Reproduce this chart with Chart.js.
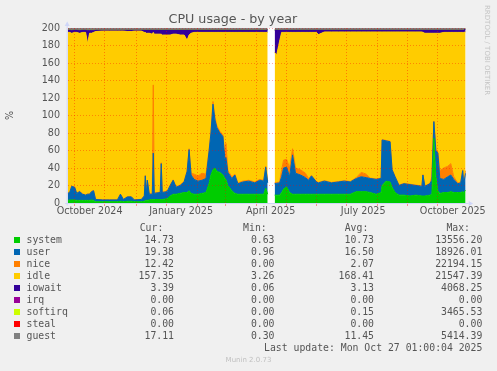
<!DOCTYPE html>
<html>
<head>
<meta charset="utf-8">
<title>CPU usage - by year</title>
<script src="https://cdn.jsdelivr.net/npm/chart.js@4.4.1/dist/chart.umd.min.js"></script>
<style>
  body { margin: 0; background: #f0f0f0; }
  #wrap { position: relative; width: 497px; height: 371px; overflow: hidden; }
  #wrap canvas { position: absolute; left: 0; top: 0; }
  .t { position: absolute; font-family: 'DejaVu Sans Mono', monospace; font-size: 9.8px; line-height: 12px; color: #555; white-space: pre; }
  .sq { position: absolute; width: 6px; height: 6px; }
  #credit { position: absolute; left: 483px; top: 5px; writing-mode: vertical-rl; font-family: 'DejaVu Sans', sans-serif; font-size: 7px; color: #c4c4c4; white-space: pre; }
  #munin { position: absolute; left: 0; width: 497px; top: 356px; text-align: center; font-family: 'DejaVu Sans', sans-serif; font-size: 7px; color: #c0c0c0; }
</style>
</head>
<body>
<div id="wrap">
  <canvas id="cpu" width="497" height="371"></canvas>
  <div id="credit">RRDTOOL / TOBI OETIKER</div>
  <div id="legend"></div>
  <div id="munin">Munin 2.0.73</div>
</div>
<script>
// =============================================
// data, read off the munin "by year" graph
// x = days since the left edge of the graph (~Sep 23 2024)
// =============================================
const days = [0,2,4,7,9,12,15,18,20,22,
  24,26,28,35,42,50,53,56,60,64,
  67,74,77,78,79,80,82,85,86,87,
  93,94,95,100,103,106,109,113,117,120,
  122,124,127,131,135,139,142,144,146,148,
  150,153,156,158,159,161,165,168,171,176,
  182,188,193,197,199,201,204,208,210,213,
  215,217,220,223,226,229,234,239,242,245,
  250,252,258,265,272,278,284,290,295,300,
  304,310,315,316,320,324,326,329,333,338,
  344,350,356,357,359,364,366,368,370,372,
  374,378,382,385,388,392,395,397,398,400];

const monthStarts = [7,37,69,99,130,159,190,220,250,280,311,342,372];
const labelDays = [22,114,204,297,387];
const labelText = ['October 2024','January 2025','April 2025','July 2025','October 2025'];

const system = [3,3.5,3.5,3.5,3,3,3,3,3,3,
  3.5,3,1.5,1.5,1.5,1.5,2,1.5,2,2,
  1.5,1.5,2,3,3,3,3.5,4,4,4,
  4,4,4,5,8,10,10,11,12,12,
  14,11,10,10,11,12,22,32,38,40,
  36,35,32,28,27,20,14,11,10,10,
  10,10,10,10,17,10,null,9,9,9,
  12,16,18.5,12,10,10,10,10,10,10,
  10,10,10,10,10,10,10,13,13,13,
  12,10,12,20,25,24,18,12,9,9,
  8,9,8,8,8,9,10,74,30,14,
  11,12,12,13,12,12,12,13,12,14.73];

const user = [8,8.5,15.5,14.5,8,10,7,6,7,7,
  9.5,11,2.5,2,2,2,8,2.5,5,5,
  2,2.5,6,28,6,23,6.5,6,53,7,
  8,41,8,8,12,16,8,9,12,24,
  47,21,17,15,15,16,36,48,75,55,
  50,45,44,22,25,15,14,21,12,14,
  15,13,16,15,24,13,null,13,13.5,14,
  18,24,22.5,18,45,24,22,19,16,21,
  14,13,15,13,14,15,14,15,17,16,
  16,17,16,52,46,46,20,18,11,13,
  13,11,11,24,11,13,16,19,30,43,
  17,15,18,19,15,10,11,24,10,19.38];

const nice = [0.3,0.3,0.3,0.3,0.3,0.3,0.3,0.3,0.3,0.3,
  0.3,0.3,0.2,0.2,0.2,0.2,0.2,0.2,0.2,0.2,
  0.2,0.2,0.2,0.5,0.3,0.3,0.5,0.5,78,0.5,
  0.5,1,0.5,0.5,0.5,0.5,0.5,0.5,1,1,
  1,2,6,6,8,5,2,2,3,3,
  2,2,2,2,16,2,2,1,1,1,
  1,1,1,1,1,2,null,1,1,1,
  8,9,9,10,7,6,6,5,2,0.5,
  0.5,0.5,0.5,0.5,0.5,0.5,0.5,1,5,4,
  0.5,0.5,0.5,0.5,0.5,0.5,0.5,0.5,0.5,0.5,
  0.5,0.5,0.5,0.5,0.5,0.5,4,0.5,1,1,
  9,13,12,13,3,1,1,1,1,3];

const idle = [183.7,182.7,174.7,176.7,183.7,180.7,184.7,185.7,171.7,183.7,
  180.7,180.7,191.8,192.8,192.8,192.8,186.3,192.3,188.8,188.8,
  192.8,192.3,186.8,163.5,184.7,167.7,183.5,182.5,60,181.5,
  180.5,147,179.5,178.5,171.5,166.5,174.5,171.5,167,149,
  130,160,162,164,161,162,135,113,79,97,
  107,113,117,143,127,158,165,162,172,170,
  169,171,168,169,153,170,null,149,145.5,161,
  157,146,145,155,133,155,157,161,167,163.5,
  170.5,169,170,172,171,170,171,166.5,160.5,162.5,
  167,168,167,123,124,125,157,165,175,173,
  174,175,176,162.5,174.5,171.5,164,100.5,133,136,
  157,155,153,150,165,172,171,157,172,158.4];

const iowait = [2.7,2.7,3.5,2.7,2.7,3.5,2.7,2.7,15.5,3.5,
  3.5,2.5,1.7,1.2,1.2,1.2,1.2,1.2,1.7,1.7,
  1.2,1.2,2.7,2.7,3.7,3.7,3.7,4.7,2.7,4.7,
  4.7,4.7,5.7,5.7,5.7,4.7,4.7,5.7,5.7,11.7,
  5.7,3.7,2.7,2.7,2.7,2.7,2.7,2.7,2.7,2.7,
  2.7,2.7,2.7,2.7,2.7,2.7,2.7,2.7,2.7,2.7,
  2.7,2.7,2.7,2.7,2.7,3,null,25.7,28.7,12.7,
  2.7,2.7,2.7,2.7,2.7,2.7,2.7,2.7,2.7,2.7,
  2.7,5.2,2.2,2.2,2.2,2.2,2.2,2.2,2.2,2.2,
  2.2,2.2,2.2,2.2,2.2,2.2,2.2,2.2,2.2,2.2,
  2.2,2.2,2.2,2.7,3.7,3.7,3.7,3.7,3.7,3.7,
  3.7,2.7,2.7,2.7,2.7,2.7,2.7,2.7,2.7,3.39];

const softirq = [0.1,0.1,0.1,0.1,0.1,0.1,0.1,0.1,0.1,0.1,
  0.1,0.1,0.1,0.1,0.1,0.1,0.1,0.1,0.1,0.1,
  0.1,0.1,0.1,0.1,0.1,0.1,0.1,0.1,0.1,0.1,
  0.2,0.2,0.2,0.2,0.2,0.2,0.2,0.2,0.2,0.2,
  0.2,0.2,0.2,0.2,0.2,0.2,0.2,0.2,0.2,0.2,
  0.2,0.2,0.2,0.2,0.2,0.2,0.2,0.2,0.2,0.2,
  0.2,0.2,0.2,0.2,0.2,0.2,null,0.1,0.1,0.1,
  0.1,0.1,0.1,0.1,0.1,0.1,0.1,0.1,0.1,0.1,
  0.1,0.1,0.1,0.1,0.1,0.1,0.1,0.1,0.1,0.1,
  0.1,0.1,0.1,0.1,0.1,0.1,0.1,0.1,0.1,0.1,
  0.1,0.1,0.1,0.1,0.1,0.1,0.1,0.1,0.1,0.1,
  0.1,0.1,0.1,0.1,0.1,0.1,0.1,0.1,0.1,0.06];

// guest pushes the stack past 200, rrdtool clips it (--rigid)
const guest = [12,12,11,12,12,11,12,12,11,12,
  12,12,11,11,11,11,11,11,11,11,
  11,11,12,12,12,12,12,12,12,12,
  12,12,12,12,12,12,12,12,12,12,
  12,12,12,12,12,12,12,13,13,13,
  13,13,13,13,13,12,12,12,12,12,
  12,12,12,12,12,12,null,11,11,11,
  11,11,11,11,11,11,11,11,11,11,
  11,11,11,11,11,11,11,11,11,11,
  11,11,11,11,11,11,11,11,11,11,
  11,11,11,12,12,12,12,12,12,12,
  12,12,12,12,12,12,12,12,12,17.11];

// legend table
const legendNames = ['system','user','nice','idle','iowait','irq','softirq','steal','guest'];
const legendCur = ['14.73','19.38','12.42','157.35','3.39','0.00','0.06','0.00','17.11'];
const legendMin = ['0.63','0.96','0.00','3.26','0.06','0.00','0.00','0.00','0.30'];
const legendAvg = ['10.73','16.50','2.07','168.41','3.13','0.00','0.15','0.00','11.45'];
const legendMax = ['13556.20','18926.01','22194.15','21547.39','4068.25','0.00','3465.53','0.00','5414.39'];

// munin default colours
const COLORS = {
  system: '#00CC00', user: '#0066B3', nice: '#FF8000', idle: '#FFCC00',
  iowait: '#330099', irq: '#990099', softirq: '#CCFF00', steal: '#FF0000', guest: '#808080'
};

// =============================================
// chart
// =============================================
const series = [
  ['system', system], ['user', user], ['nice', nice], ['idle', idle],
  ['iowait', iowait], ['softirq', softirq], ['guest', guest]
];

const datasets = series.map(([name, vals], i) => ({
  label: name,
  data: days.map((d, k) => ({ x: d, y: vals[k] })),
  backgroundColor: COLORS[name],
  borderColor: COLORS[name],
  borderWidth: 1,
  pointRadius: 0,
  tension: 0,
  spanGaps: false,
  fill: i === 0 ? 'origin' : '-1'
}));

const FONT = 'DejaVu Sans';
const TEXT = '#555';

const muninFrame = {
  id: 'muninFrame',
  beforeDraw(chart) {
    const { ctx, chartArea: a } = chart;
    ctx.save();
    ctx.fillStyle = '#fff';
    ctx.fillRect(a.left, a.top, a.right - a.left, a.bottom - a.top);
    ctx.restore();
  },
  afterDraw(chart) {
    const { ctx, chartArea: a } = chart;
    const x0 = a.left - 0.5, y0 = a.bottom + 0.5;
    ctx.save();
    ctx.strokeStyle = '#CFD6F8';
    ctx.fillStyle = '#CFD6F8';
    ctx.lineWidth = 1;
    ctx.beginPath();
    ctx.moveTo(x0, y0 + 2); ctx.lineTo(x0, a.top - 3);
    ctx.moveTo(x0 - 2, y0); ctx.lineTo(a.right + 3, y0);
    ctx.stroke();
    ctx.beginPath();
    ctx.moveTo(x0 - 2.5, a.top - 2); ctx.lineTo(x0 + 2.5, a.top - 2); ctx.lineTo(x0, a.top - 6.5);
    ctx.closePath(); ctx.fill();
    ctx.beginPath();
    ctx.moveTo(a.right + 3, y0 - 2.5); ctx.lineTo(a.right + 3, y0 + 2.5); ctx.lineTo(a.right + 7.5, y0);
    ctx.closePath(); ctx.fill();
    ctx.restore();
  }
};

new Chart(document.getElementById('cpu'), {
  type: 'line',
  data: { datasets },
  options: {
    responsive: false,
    animation: false,
    devicePixelRatio: 1,
    layout: { padding: { left: 0, right: 31.3, top: 0.8, bottom: 150 } },
    plugins: {
      legend: { display: false },
      tooltip: { enabled: false },
      title: {
        display: true,
        text: 'CPU usage - by year',
        color: TEXT,
        font: { family: FONT, size: 12.7, weight: 'normal' },
        padding: { top: 11, bottom: 1 }
      }
    },
    scales: {
      x: {
        type: 'linear', min: 0, max: 400, position: 'bottom',
        afterBuildTicks: s => { s.ticks = monthStarts.map(v => ({ value: v })); },
        ticks: { display: false },
        // grid drawn over the areas, like rrdtool does
        grid: { z: 1, color: 'rgba(255,0,0,0.4)', drawTicks: true, tickLength: 3 },
        border: { display: false, dash: [1, 2] },
        afterFit: s => { s.height = 0; }
      },
      xl: {
        type: 'linear', min: 0, max: 400, position: 'bottom',
        afterBuildTicks: s => { s.ticks = labelDays.map(v => ({ value: v })); },
        grid: { display: false, drawTicks: false },
        border: { display: false },
        ticks: {
          autoSkip: false, maxRotation: 0, padding: 3,
          color: TEXT, font: { family: FONT, size: 9.6 },
          callback: (v, i) => labelText[i]
        },
        afterFit: s => { s.height = 18; }
      },
      y: {
        stacked: true, min: 0, max: 200,
        grid: {
          z: 1,
          drawTicks: false,
          color: c => (c.tick && c.tick.value % 20 === 0) ? 'rgba(255,0,0,0.35)' : 'rgba(130,130,130,0.4)'
        },
        border: { display: false, dash: [1, 2] },
        ticks: {
          stepSize: 10, padding: 7.7, color: TEXT,
          font: { family: FONT, size: 9.6 },
          callback: v => v % 20 === 0 ? v : ''
        },
        title: {
          display: true, text: '%', color: TEXT,
          font: { family: FONT, size: 9.6 },
          padding: { top: 4.5, bottom: 0 }
        },
        afterFit: s => { s.width = 67.7; }
      }
    }
  },
  plugins: [muninFrame]
});

// =============================================
// legend table (html text under the graph)
// =============================================
const legend = document.getElementById('legend');
const ROW0 = 239.7, ROW_STEP = 12;
const COL_RIGHT = [174, 274.5, 374, 482.3];

function put(text, y, opts) {
  const el = document.createElement('div');
  el.className = 't';
  el.textContent = text;
  el.style.top = (y - 6) + 'px';
  if (opts.left != null) el.style.left = opts.left + 'px';
  if (opts.right != null) { el.style.right = (497 - opts.right) + 'px'; el.style.textAlign = 'right'; }
  legend.appendChild(el);
}

put('Cur:', ROW0 - ROW_STEP, { right: 163.3 });
put('Min:', ROW0 - ROW_STEP, { right: 266.7 });
put('Avg:', ROW0 - ROW_STEP, { right: 368.3 });
put('Max:', ROW0 - ROW_STEP, { right: 470 });

legendNames.forEach((name, i) => {
  const y = ROW0 + i * ROW_STEP;
  const sq = document.createElement('div');
  sq.className = 'sq';
  sq.style.left = '14px';
  sq.style.top = (y - 3) + 'px';
  sq.style.background = COLORS[name];
  legend.appendChild(sq);
  put(name, y, { left: 26.5 });
  [legendCur, legendMin, legendAvg, legendMax].forEach((col, c) => {
    put(col[i], y, { right: COL_RIGHT[c] });
  });
});

put('Last update: Mon Oct 27 01:00:04 2025', ROW0 + 9 * ROW_STEP, { right: 482.3 });
</script>
</body>
</html>
